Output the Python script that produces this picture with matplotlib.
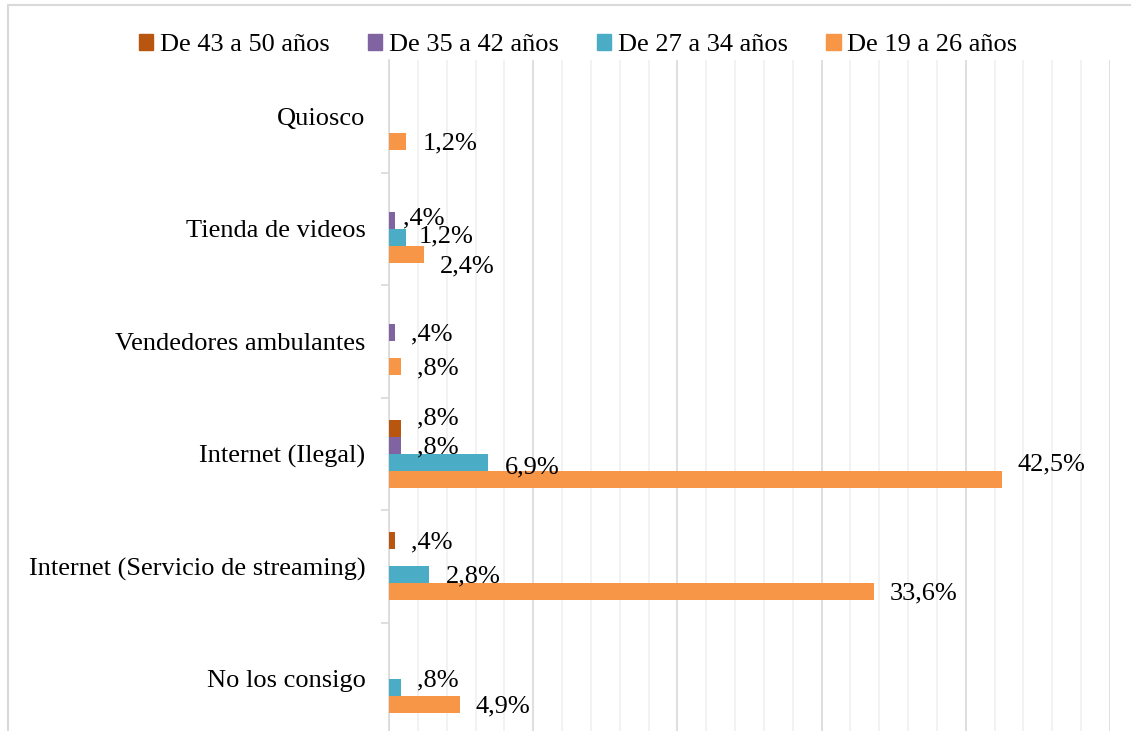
import matplotlib
matplotlib.use("Agg")
import matplotlib.pyplot as plt
from matplotlib.patches import Rectangle
from matplotlib.ticker import MultipleLocator, FixedLocator, NullFormatter
import numpy as np

# data (percent)
categories = ["Quiosco", "Tienda de videos", "Vendedores ambulantes",
              "Internet (Ilegal)", "Internet (Servicio de streaming)", "No los consigo"]
series_names = ["De 43 a 50 años", "De 35 a 42 años", "De 27 a 34 años", "De 19 a 26 años"]
edad_43_50 = [None, None, None, 0.8, 0.4, None]
edad_35_42 = [None, 0.4, 0.4, 0.8, None, None]
edad_27_34 = [None, 1.2, None, 6.9, 2.8, 0.8]
edad_19_26 = [1.2, 2.4, 0.8, 42.5, 33.6, 4.9]
series_values = [edad_43_50, edad_35_42, edad_27_34, edad_19_26]
colors = ["#B8560F", "#8064A2", "#4BACC6", "#F79646"]

# label nudges in pixels (dx, dy), dy positive = down; Excel moved a few labels around
nudges = {(1, 1): (8, -4), (1, 2): (12, -3), (1, 3): (16, 10),
          (3, 0): (16, -12), (3, 2): (16, 3), (3, 3): (16, -17),
          (5, 2): (16, -9)}

def fmt(v):
    s = ("%.1f" % v).replace(".", ",")
    if s.startswith("0"):
        s = s[1:]
    return s + "%"

plt.rcParams["font.family"] = ["Liberation Serif", "DejaVu Serif"]
FS = 19
W, H = 1131, 731
fig = plt.figure(figsize=(W / 100, H / 100), dpi=100)

# outer chart frame
fig.patches.append(Rectangle((8 / W, -0.1), 1.2, 1 - 5 / H + 0.1, transform=fig.transFigure,
                             fill=False, edgecolor="#D9D9D9", linewidth=1.5))

ax = fig.add_axes([389 / W, -4 / H, (1110 - 389) / W, 675 / H])

bar_h = 17 / 112.5
y = np.arange(len(categories))
for j, vals in enumerate(series_values):
    off = (j - 1.5) * bar_h
    for i, v in enumerate(vals):
        if v is None:
            continue
        ax.barh(y[i] + off, v, height=bar_h, color=colors[j], edgecolor="none", zorder=3)
        dx, dy = nudges.get((i, j), (16, 0))
        dy += 2
        ax.annotate(fmt(v), xy=(v, y[i] + off), xytext=(dx * 0.72, -dy * 0.72),
                    textcoords="offset points", ha="left", va="center", fontsize=FS,
                    color="black", zorder=4, annotation_clip=False)

ax.set_xlim(0, 50)
ax.set_ylim(len(categories) - 0.5, -0.5)

# gridlines
ax.xaxis.set_major_locator(MultipleLocator(10))
ax.xaxis.set_minor_locator(MultipleLocator(2))
ax.grid(True, axis="x", which="major", color="#D9D9D9", linewidth=1.2, zorder=0)
ax.grid(True, axis="x", which="minor", color="#F0F0F0", linewidth=1.2, zorder=0)
ax.tick_params(axis="x", which="both", length=0, labelbottom=False)

# y axis: tick marks on boundaries, labels at centres
ax.yaxis.set_major_locator(FixedLocator(np.arange(0.5, len(categories) - 0.5, 1)))
ax.yaxis.set_major_formatter(NullFormatter())
ax.yaxis.set_minor_locator(FixedLocator(y))
ax.set_yticklabels(categories, minor=True, fontsize=FS)
ax.tick_params(axis="y", which="major", length=6, width=1.2, color="#D9D9D9", direction="out")
ax.tick_params(axis="y", which="minor", length=0, pad=17)

for s in ["top", "right", "bottom"]:
    ax.spines[s].set_visible(False)
ax.spines["left"].set_color("#D9D9D9")
ax.spines["left"].set_linewidth(1.2)

handles = [Rectangle((0, 0), 1, 1, color=c) for c in colors]
fig.legend(handles, series_names, loc="center", bbox_to_anchor=(578 / W, 1 - 45 / H),
           ncol=4, frameon=False, fontsize=FS, handlelength=0.55, handleheight=0.55,
           handletextpad=0.25, columnspacing=1.45)

fig.savefig("out.png", dpi=100)
